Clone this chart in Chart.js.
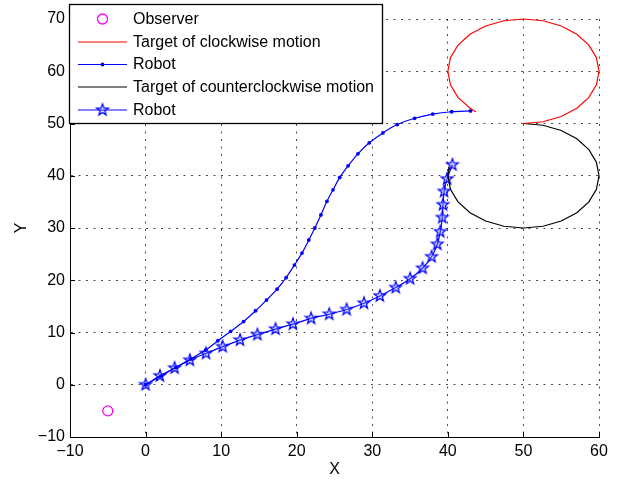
<!DOCTYPE html>
<html><head><meta charset="utf-8">
<style>html,body{margin:0;padding:0;background:#fff;} canvas{display:block;}</style>
<script src="https://cdn.jsdelivr.net/npm/chart.js@4.4.0/dist/chart.umd.min.js"></script>
</head><body>
<canvas id="c" width="620" height="481"></canvas>
<script>
// ---- data ----
const observerX = [-5];
const observerY = [-5];

const cwTargetX = [50, 52.59, 55, 57.07, 58.66, 59.66, 60, 59.66, 58.66, 57.07, 55, 52.59, 50, 47.41, 45, 42.93, 41.34, 40.34, 40, 40.34, 41.34, 42.93, 43.71];
const cwTargetY = [50, 50.34, 51.34, 52.93, 55, 57.41, 60, 62.59, 65, 67.07, 68.66, 69.66, 70, 69.66, 68.66, 67.07, 65, 62.59, 60, 57.41, 55, 52.93, 52.23];

const robot1X = [0, 2.0, 4.0, 6.0, 7.94, 9.57, 11.25, 12.97, 14.56, 16.0, 17.4, 18.6, 19.7, 20.7, 21.6, 22.4, 23.2, 24.0, 24.8, 25.7, 26.8, 28.1, 29.6, 31.4, 33.3, 35.6, 38.0, 40.5, 43.0];
const robot1Y = [0, 1.65, 3.3, 4.95, 6.64, 8.42, 10.2, 12.1, 14.16, 16.2, 18.3, 20.5, 22.9, 25.2, 27.7, 30.0, 32.5, 35.1, 37.3, 39.7, 41.9, 44.2, 46.3, 48.2, 49.8, 51.0, 51.8, 52.25, 52.4];

const ccwTargetX = [50, 52.59, 55, 57.07, 58.66, 59.66, 60, 59.66, 58.66, 57.07, 55, 52.59, 50, 47.41, 45, 42.93, 41.34, 40.34, 40, 40.15];
const ccwTargetY = [50, 49.66, 48.66, 47.07, 45, 42.59, 40, 37.41, 35, 32.93, 31.34, 30.34, 30, 30.34, 31.34, 32.93, 35, 37.41, 40, 41.74];

const robot2X = [0, 1.9, 3.84, 5.86, 8.0, 10.2, 12.5, 14.8, 17.2, 19.5, 21.9, 24.3, 26.6, 28.9, 31.0, 33.1, 35.0, 36.65, 37.85, 38.6, 39.0, 39.26, 39.35, 39.5, 39.9, 40.6];
const robot2Y = [0, 1.7, 3.2, 4.7, 6.0, 7.3, 8.55, 9.6, 10.65, 11.6, 12.7, 13.5, 14.4, 15.6, 17.0, 18.6, 20.3, 22.3, 24.5, 26.9, 29.3, 32.0, 34.45, 37.0, 39.4, 42.1];

const xTicks = [-10, 0, 10, 20, 30, 40, 50, 60];
const yTicks = [-10, 0, 10, 20, 30, 40, 50, 60, 70];
const seriesLabels = ['Observer', 'Target of clockwise motion', 'Robot', 'Target of counterclockwise motion', 'Robot'];
const xTitle = 'X';
const yTitle = 'Y';

// ---- helpers ----
const FONT = '"Liberation Sans", Arial, Helvetica, sans-serif';
function pts(xs, ys) { return xs.map((x, i) => ({ x: x, y: ys[i] })); }

function makeStar(R, color) {
  const s = 2 * Math.ceil(R + 2);
  const c = document.createElement('canvas');
  c.width = s; c.height = s;
  const g = c.getContext('2d');
  const cx = s / 2, cy = s / 2;
  g.beginPath();
  for (let k = 0; k < 10; k++) {
    const r = (k % 2 === 0) ? R : R * 0.4;
    const a = -Math.PI / 2 + k * Math.PI / 5;
    const px = cx + r * Math.cos(a), py = cy + r * Math.sin(a);
    if (k === 0) g.moveTo(px, py); else g.lineTo(px, py);
  }
  g.closePath();
  g.fillStyle = 'rgba(120,140,255,0.35)';
  g.fill();
  g.strokeStyle = color;
  g.lineWidth = 1.2;
  g.stroke();
  return c;
}
const starImg = makeStar(6.2, '#0000ff');

// inside tick marks (MATLAB style)
const innerTicks = {
  id: 'innerTicks',
  afterDraw(chart) {
    const ctx = chart.ctx, a = chart.chartArea;
    const sx = chart.scales.x, sy = chart.scales.y;
    ctx.save();
    ctx.strokeStyle = '#000';
    ctx.lineWidth = 1;
    ctx.beginPath();
    xTicks.forEach(v => {
      const px = Math.round(sx.getPixelForValue(v)) + 0.5;
      ctx.moveTo(px, a.bottom); ctx.lineTo(px, a.bottom - 5);
    });
    yTicks.forEach(v => {
      const py = Math.round(sy.getPixelForValue(v)) + 0.5;
      ctx.moveTo(a.left, py); ctx.lineTo(a.left + 5, py);
    });
    ctx.stroke();
    ctx.restore();
  }
};

// MATLAB-like legend box
const boxLegend = {
  id: 'boxLegend',
  afterDraw(chart) {
    const ctx = chart.ctx;
    const L = 69.5, T = 4.5, R = 382.5, B = 123.5;
    ctx.save();
    ctx.fillStyle = '#fff';
    ctx.fillRect(L, T, R - L, B - T);
    ctx.strokeStyle = '#000';
    ctx.lineWidth = 1.3;
    ctx.strokeRect(L, T, R - L, B - T);
    const rowY = [19, 42, 64.5, 87, 110];
    const x0 = 78, x1 = 127, xm = 102.5;
    chart.data.datasets.forEach((ds, i) => {
      const y = rowY[i];
      if (ds.showLine) {
        ctx.strokeStyle = ds.borderColor;
        ctx.lineWidth = ds.borderWidth;
        ctx.beginPath(); ctx.moveTo(x0, y); ctx.lineTo(x1, y); ctx.stroke();
      }
      if (ds.pointStyle === 'circle' && ds.pointRadius > 0) {
        ctx.beginPath();
        ctx.arc(xm, y, ds.pointRadius, 0, Math.PI * 2);
        if (ds.pointBorderWidth > 0) {
          ctx.strokeStyle = ds.pointBorderColor;
          ctx.lineWidth = ds.pointBorderWidth;
          ctx.stroke();
        } else {
          ctx.fillStyle = ds.pointBackgroundColor;
          ctx.fill();
        }
      } else if (ds.pointStyle instanceof HTMLCanvasElement) {
        ctx.drawImage(ds.pointStyle, xm - ds.pointStyle.width / 2, y - ds.pointStyle.height / 2);
      }
      ctx.fillStyle = '#000';
      ctx.font = '16px ' + FONT;
      ctx.textBaseline = 'middle';
      ctx.textAlign = 'left';
      ctx.fillText(ds.label, 133, y + 0.5);
    });
    ctx.restore();
  }
};

const tickFmt = v => String(v).replace('-', '\u2212');

new Chart(document.getElementById('c'), {
  type: 'scatter',
  data: {
    datasets: [
      { label: seriesLabels[0], data: pts(observerX, observerY), showLine: false,
        pointStyle: 'circle', pointRadius: 5, pointBorderWidth: 1.3,
        pointBorderColor: '#ff00ff', pointBackgroundColor: 'rgba(0,0,0,0)',
        borderColor: '#ff00ff', borderWidth: 1.3 },
      { label: seriesLabels[1], data: pts(cwTargetX, cwTargetY), showLine: true,
        borderColor: '#ff0000', borderWidth: 1.2, pointRadius: 0, tension: 0, clip: 6 },
      { label: seriesLabels[2], data: pts(robot1X, robot1Y), showLine: true,
        borderColor: '#0000ff', borderWidth: 1.2, tension: 0.25,
        pointStyle: 'circle', pointRadius: 1.9, pointBorderWidth: 0,
        pointBackgroundColor: '#0000ff', pointBorderColor: '#0000ff', clip: 6 },
      { label: seriesLabels[3], data: pts(ccwTargetX, ccwTargetY), showLine: true,
        borderColor: '#000000', borderWidth: 1.2, pointRadius: 0, tension: 0, clip: 6 },
      { label: seriesLabels[4], data: pts(robot2X, robot2Y), showLine: true,
        borderColor: '#0000ff', borderWidth: 1.2, tension: 0.25,
        pointStyle: starImg, pointRadius: 6, clip: 6 }
    ]
  },
  options: {
    responsive: false,
    animation: false,
    events: [],
    layout: { padding: { left: 0, right: 21, top: 19, bottom: 0 } },
    plugins: { legend: { display: false }, tooltip: { enabled: false } },
    scales: {
      x: {
        type: 'linear', min: -10, max: 60,
        afterBuildTicks: s => { s.ticks = xTicks.map(v => ({ value: v })); },
        afterFit: s => { s.height = 44; },
        ticks: { color: '#000', font: { family: FONT, size: 16 }, padding: 5, maxRotation: 0, autoSkip: false, callback: tickFmt },
        grid: { color: 'rgba(0,0,0,0.7)', lineWidth: 1, drawTicks: false },
        border: { display: true, color: '#000', width: 1, dash: [2, 5.5] },
        title: { display: true, text: xTitle, color: '#000', font: { family: FONT, size: 16, lineHeight: 1 }, padding: { top: 0, bottom: 3 } }
      },
      y: {
        type: 'linear', min: -10, max: 70,
        afterBuildTicks: s => { s.ticks = yTicks.map(v => ({ value: v })); },
        afterFit: s => { s.width = 70; },
        ticks: { color: '#000', font: { family: FONT, size: 16 }, padding: 5, autoSkip: false, callback: tickFmt },
        grid: { color: 'rgba(0,0,0,0.7)', lineWidth: 1, drawTicks: false },
        border: { display: true, color: '#000', width: 1, dash: [2, 5.5] },
        title: { display: true, text: yTitle, color: '#000', font: { family: FONT, size: 16, lineHeight: 1 }, padding: { top: 14, bottom: 0 } }
      }
    }
  },
  plugins: [innerTicks, boxLegend]
});
</script>
</body></html>
